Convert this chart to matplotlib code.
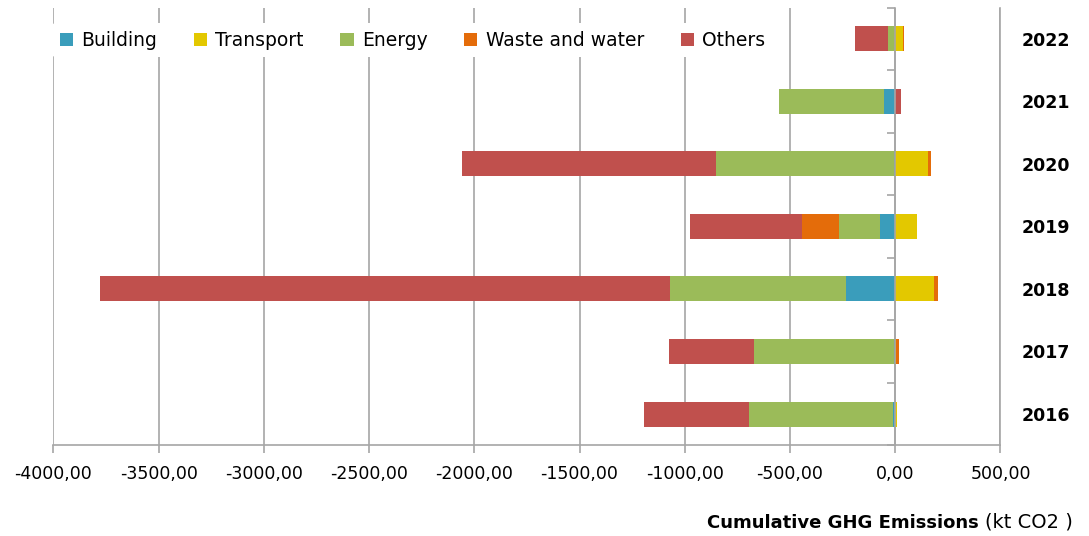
import numpy as np
import matplotlib
matplotlib.use("Agg")
import matplotlib.pyplot as plt
from matplotlib.ticker import FuncFormatter, FixedLocator, MultipleLocator

years = ["2016", "2017", "2018", "2019", "2020", "2021", "2022"]
series = ["Building", "Transport", "Energy", "Waste and water", "Others"]
building = [-9, -4, -232, -71, -5, -52, 0]
transport = [7, 3, 184, 105, 155, 0, 37]
energy = [-686, -667, -837, -197, -847, -500, -32]
waste = [0, 15, 17, -175, 15, 0, 3]
others = [-500, -403, -2710, -530, -1206, 27, -158]

colors = ["#3a9dbb", "#e3c800", "#9bbb59", "#e46c0a", "#c0504d"]
grid_col = "#a6a6a6"

fig = plt.figure(figsize=(10.89, 5.36), dpi=100)
ax = fig.add_axes([0.049, 0.1692, 0.8697, 0.8168])

y = np.arange(len(years))
pos = np.zeros(len(years))
neg = np.zeros(len(years))
for name, vals, col in zip(series, [building, transport, energy, waste, others], colors):
    v = np.array(vals, dtype=float)
    left = np.where(v >= 0, pos, neg)
    ax.barh(y, v, left=left, height=0.4, color=col, label=name, zorder=3, linewidth=0)
    pos += np.where(v >= 0, v, 0)
    neg += np.where(v < 0, v, 0)

ax.set_xlim(-4000, 500)
ax.set_ylim(-0.5, len(years) - 0.5)
ax.xaxis.set_major_locator(MultipleLocator(500))
ax.xaxis.set_major_formatter(FuncFormatter(lambda v, p: f"{v:.2f}".replace(".", ",")))
ax.grid(axis="x", color=grid_col, linewidth=1.2, zorder=0)
ax.set_axisbelow(True)

# category axis crosses at 0
ax.spines["left"].set_position(("data", 0))
ax.spines["top"].set_visible(False)
for s in ["left", "right", "bottom"]:
    ax.spines[s].set_color(grid_col)
    ax.spines[s].set_linewidth(1.2)
ax.spines["left"].set_zorder(4)

ax.set_yticks(y)
ax.set_yticklabels(years, fontsize=12.5, fontweight="bold")
ax.yaxis.set_minor_locator(FixedLocator(np.arange(len(years) + 1) - 0.5))
ax.tick_params(axis="y", which="major", left=False, right=False,
               labelleft=False, labelright=True, pad=11.5)
ax.tick_params(axis="y", which="minor", left=True, right=False,
               length=6, width=1.2, color=grid_col, direction="out")
ax.tick_params(axis="x", which="major", length=6, width=1.2, color=grid_col,
               labelsize=12.5, pad=8.5)

leg = ax.legend(loc="upper left", bbox_to_anchor=(-0.011, 0.985), ncol=5,
                fontsize=13.5, frameon=True, facecolor="white", edgecolor="none",
                framealpha=1, handlelength=0.7, handleheight=0.7,
                handletextpad=0.45, columnspacing=1.95, borderpad=0.4)
leg.set_zorder(5)

fig.canvas.draw()
r = fig.canvas.get_renderer()
t1 = fig.text(707 / 1089, 1 - 528 / 536, "Cumulative GHG Emissions",
              fontsize=13, fontweight="bold", va="baseline", ha="left")
bb = t1.get_window_extent(r)
fig.text((bb.x1 + 6) / fig.bbox.width, 1 - 528 / 536, "(kt CO2 )",
         fontsize=14, va="baseline", ha="left")

fig.savefig("out.png", dpi=100)
